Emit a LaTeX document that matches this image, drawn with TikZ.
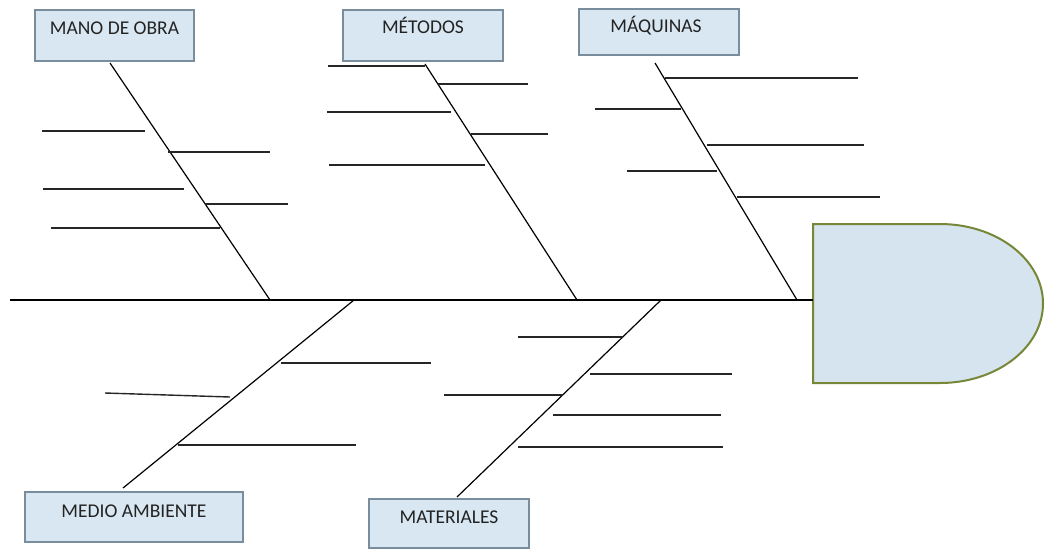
\documentclass[tikz,border=0pt]{standalone}
\usepackage{fontspec}
\setmainfont{Carlito}
\definecolor{boxfill}{RGB}{216,231,241}
\definecolor{boxline}{RGB}{122,141,156}
\definecolor{headfill}{RGB}{213,228,238}
\definecolor{headline}{RGB}{118,135,55}
\definecolor{ink}{RGB}{35,35,35}
\tikzset{
  causebox/.style={draw=boxline, line width=1.3pt, fill=boxfill, inner sep=0pt,
    text=ink, font=\fontsize{19.5}{21}\selectfont, text height=12.5pt},
  bone/.style={line width=1.2pt, black},
  tick/.style={line width=1.4pt, black!85}
}
\begin{document}
\begin{tikzpicture}[x=1pt, y=-1pt]
\useasboundingbox (0,0) rectangle (1046,550);

% effect head
\coordinate (head) at (813,300);
\filldraw[fill=headfill, draw=headline, line width=2pt]
  (813,224) -- (940,224)
  arc[start angle=90, end angle=-90, x radius=103pt, y radius=79.5pt]
  -- (813,383) -- cycle;

% cause boxes
\node[causebox, minimum width=159pt, minimum height=51pt, text depth=15pt] (mano) at (114.5,35.5) {MANO DE OBRA};
\node[causebox, minimum width=160pt, minimum height=51pt, text depth=17pt] (metodos) at (423,35.5) {MÉTODOS};
\node[causebox, minimum width=160pt, minimum height=46pt, text depth=12pt] (maquinas) at (659,32) {\hspace{-6pt}MÁQUINAS};
\node[causebox, minimum width=218pt, minimum height=50pt, text depth=12pt] (medio) at (134,517) {MEDIO AMBIENTE};
\node[causebox, minimum width=160pt, minimum height=49pt, text depth=13pt] (materiales) at (449,523.5) {MATERIALES};

% spine
\coordinate (tail) at (10,300);
\draw[bone] (tail) -- (head);

% main bones
\coordinate (manoTop) at (110,63);   \coordinate (manoEnd) at (270,300);
\coordinate (metTop) at (425,64);    \coordinate (metEnd) at (577,300);
\coordinate (maqTop) at (655,63);    \coordinate (maqEnd) at (797,300);
\coordinate (medTop) at (354,300);   \coordinate (medEnd) at (123,488);
\coordinate (matTop) at (661,300);   \coordinate (matEnd) at (457,497);
\draw[bone] (manoTop) -- (manoEnd);
\draw[bone] (metTop) -- (metEnd);
\draw[bone] (maqTop) -- (maqEnd);
\draw[bone] (medTop) -- (medEnd);
\draw[bone] (matTop) -- (matEnd);

% sub-causes: mano de obra
\draw[tick] (42,131) -- (145,131);
\draw[tick] (168,152) -- (270,152);
\draw[tick] (43,189) -- (184,189);
\draw[tick] (205,204) -- (288,204);
\draw[tick] (51,228) -- (220,228);

% sub-causes: metodos
\draw[tick] (328,66) -- (425,66);
\draw[tick] (438,84) -- (528,84);
\draw[tick] (327,112) -- (451,112);
\draw[tick] (471,134) -- (548,134);
\draw[tick] (329,165) -- (485,165);

% sub-causes: maquinas
\draw[tick] (665,78) -- (858,78);
\draw[tick] (595,109) -- (681,109);
\draw[tick] (707,145) -- (864,145);
\draw[tick] (627,171) -- (717,171);
\draw[tick] (737,197) -- (880,197);

% sub-causes: medio ambiente
\draw[tick] (281,363) -- (431,363);
\draw[tick] (105,393) -- (230,397);
\draw[tick] (178,445) -- (356,445);

% sub-causes: materiales
\draw[tick] (518,337) -- (623,337);
\draw[tick] (590,374) -- (732,374);
\draw[tick] (444,395) -- (563,395);
\draw[tick] (553,415) -- (721,415);
\draw[tick] (518,447) -- (723,447);
\end{tikzpicture}
\end{document}
